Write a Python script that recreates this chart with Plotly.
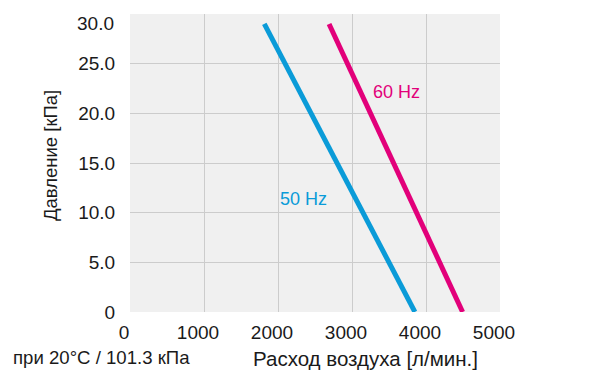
import plotly.graph_objects as go

# Data
flow_50 = [1815, 3850]      # л/мин
press_50 = [29.0, 0.0]      # кПа
flow_60 = [2690, 4495]
press_60 = [29.0, 0.0]

x_ticks = [0, 1000, 2000, 3000, 4000, 5000]
y_ticks = [0, 5, 10, 15, 20, 25, 30]
y_tick_text = ["0", "5.0", "10.0", "15.0", "20.0", "25.0", "30.0"]

BLUE = "#0a9bd8"
PINK = "#e2007a"
FONT = "Liberation Sans, Arial, Helvetica, sans-serif"
TXT = "#1a1a1a"

# page body has an 8px margin; layout numbers are in figure coordinates
OFF = 8
L, R, T, B = 122, 108, 6, 81
W, H = 600, 385
PW = W - L - R
PH = H - T - B

fig = go.Figure()
fig.add_trace(go.Scatter(x=flow_50, y=press_50, mode="lines",
                         line=dict(color=BLUE, width=5), showlegend=False))
fig.add_trace(go.Scatter(x=flow_60, y=press_60, mode="lines",
                         line=dict(color=PINK, width=5), showlegend=False))

fig.add_annotation(x=2347, y=11.33, text="50 Hz", showarrow=False,
                   xanchor="center", yanchor="middle",
                   font=dict(family=FONT, size=18, color=BLUE))
fig.add_annotation(x=3604, y=22.1, text="60 Hz", showarrow=False,
                   xanchor="center", yanchor="middle",
                   font=dict(family=FONT, size=18, color=PINK))

# the top tick label sits a little below its gridline in the reference
tick_labels_shown = [t if v != max(y_ticks) else "" for v, t in zip(y_ticks, y_tick_text)]
fig.add_annotation(xref="paper", yref="y", x=0, y=y_ticks[-1],
                   xanchor="right", yanchor="middle", xshift=-14, yshift=-9,
                   text=y_tick_text[-1], showarrow=False,
                   font=dict(family=FONT, size=19, color=TXT))


def px(x):
    return (x - OFF - L) / PW


def py(y):
    return (H - B - (y - OFF)) / PH


fig.add_annotation(xref="paper", yref="paper", x=px(50), y=py(156),
                   xanchor="center", yanchor="middle",
                   text="Давление [кПа]", textangle=-90, showarrow=False,
                   font=dict(family=FONT, size=18.5, color=TXT))
fig.add_annotation(xref="paper", yref="paper", x=px(365), y=py(358),
                   xanchor="center", yanchor="middle",
                   text="Расход воздуха [л/мин.]", showarrow=False,
                   font=dict(family=FONT, size=20.5, color=TXT))
fig.add_annotation(xref="paper", yref="paper", x=px(101.5), y=py(357),
                   xanchor="center", yanchor="middle",
                   text="при 20°C / 101.3 кПа", showarrow=False,
                   font=dict(family=FONT, size=18.6, color=TXT))

fig.update_layout(
    width=W, height=H,
    margin=dict(l=L, r=R, t=T, b=B, autoexpand=False),
    paper_bgcolor="white", plot_bgcolor="#f0f0f0",
    font=dict(family=FONT, size=19, color=TXT),
    showlegend=False,
)
fig.update_xaxes(range=[0, 5000], tickvals=x_ticks, showgrid=True,
                 gridcolor="#cccccc", gridwidth=1, zeroline=False,
                 automargin=False, ticklabelshift=-6, ticklabeloverflow="allow",
                 ticks="outside", ticklen=3, tickcolor="rgba(0,0,0,0)",
                 tickfont=dict(family=FONT, size=19, color=TXT), fixedrange=True)
fig.update_yaxes(range=[0, 30], tickvals=y_ticks, ticktext=tick_labels_shown,
                 showgrid=True, gridcolor="#cccccc", gridwidth=1, zeroline=False,
                 automargin=False, ticklabeloverflow="allow",
                 ticks="outside", ticklen=10, tickcolor="rgba(0,0,0,0)",
                 tickfont=dict(family=FONT, size=19, color=TXT), fixedrange=True)

fig.write_html("out.html")
